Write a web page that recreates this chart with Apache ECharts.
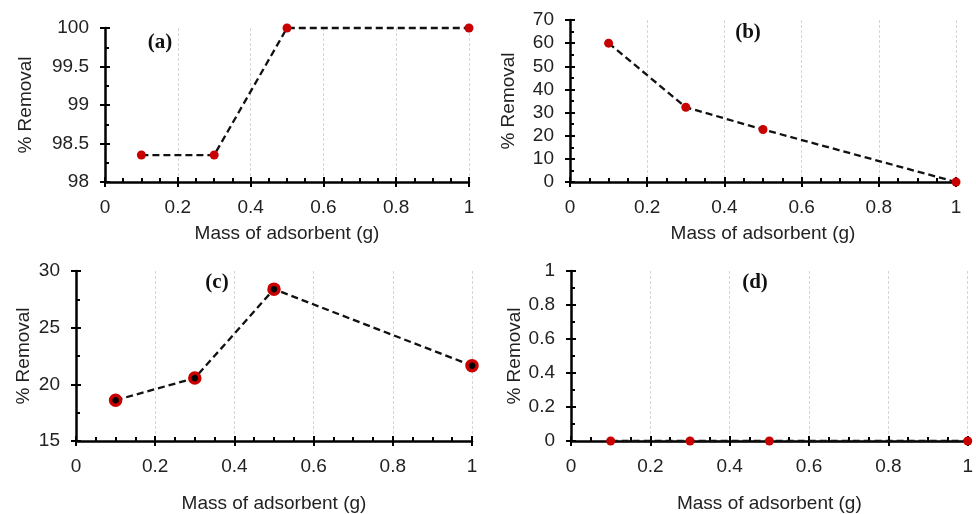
<!DOCTYPE html>
<html><head><meta charset="utf-8">
<script src="https://cdn.jsdelivr.net/npm/echarts@6/dist/echarts.min.js"></script>
<style>html,body{margin:0;padding:0;background:#fff}#c{width:976px;height:514px}</style>
</head><body><div id="c"></div>
<script>
const xMass = [0.1, 0.3, 0.5, 1];
const xTicks = ['0', '0.2', '0.4', '0.6', '0.8', '1'];
const removalA = [98.35, 98.35, 100, 100];
const removalB = [60, 32.3, 22.7, 0];
const removalC = [18.6, 20.55, 28.4, 21.65];
const removalD = [0, 0, 0, 0];
const panelLabels = ['(a)', '(b)', '(c)', '(d)'];
const xTitle = 'Mass of adsorbent (g)';
const yTitle = '% Removal';

const FONT = 'Liberation Sans, Arial, sans-serif';
const RED = '#c80000';
const TICK = {color:'#000', width:2};

const panels = [
  {grid:{left:105,top:28,width:364,height:154}, y:{min:98,max:100,interval:0.5}, data:removalA, nameGapX:42, nameGapY:70, label:{x:160,y:43}},
  {grid:{left:570,top:20,width:386,height:162}, y:{min:0,max:70,interval:10}, data:removalB, nameGapX:42, nameGapY:52, label:{x:748,y:33}},
  {grid:{left:76,top:271,width:396,height:171}, y:{min:15,max:30,interval:5}, data:removalC, nameGapX:53, nameGapY:43, label:{x:217,y:283}, dotted:true},
  {grid:{left:571,top:271,width:397,height:171}, y:{min:0,max:1,interval:0.2}, data:removalD, nameGapX:53, nameGapY:46, label:{x:755,y:283}}
];

const grids = [], xAxes = [], yAxes = [], series = [], graphics = [];
panels.forEach((p, i) => {
  grids.push(Object.assign({containLabel:false}, p.grid));
  const xBase = {type:'value', gridIndex:i, min:0, max:1, interval:0.2, position:'bottom'};
  const yBase = {type:'value', gridIndex:i, min:p.y.min, max:p.y.max, interval:p.y.interval, position:'left'};
  xAxes.push(Object.assign({}, xBase, {
    axisLine:{show:true,onZero:false,lineStyle:{color:'#000',width:2.5}},
    axisTick:{show:false},
    axisLabel:{color:'#222',fontFamily:FONT,fontSize:19,margin:16,
      formatter:(v)=>xTicks[Math.round(v/0.2)]},
    splitLine:{show:true,lineStyle:{color:'#d6d6d6',type:[3,2],width:1}},
    name:xTitle, nameLocation:'middle', nameGap:p.nameGapX,
    nameTextStyle:{color:'#222',fontFamily:FONT,fontSize:19}
  }));
  xAxes.push(Object.assign({}, xBase, {
    offset:-5, axisLine:{show:false,onZero:false},
    axisTick:{show:true,inside:false,length:10,lineStyle:TICK},
    axisLabel:{show:false}, splitLine:{show:false}
  }));
  xAxes.push(Object.assign({}, xBase, {
    offset:-4, axisLine:{show:false,onZero:false},
    axisTick:{show:false},
    minorTick:{show:true,splitNumber:4,length:4,lineStyle:TICK},
    axisLabel:{show:false}, splitLine:{show:false}, minorSplitLine:{show:false}
  }));
  yAxes.push(Object.assign({}, yBase, {
    axisLine:{show:true,onZero:false,lineStyle:{color:'#000',width:2.5}},
    axisTick:{show:false},
    axisLabel:{color:'#222',fontFamily:FONT,fontSize:19,margin:16},
    splitLine:{show:false},
    name:yTitle, nameLocation:'middle', nameGap:p.nameGapY, nameRotate:90,
    nameTextStyle:{color:'#222',fontFamily:FONT,fontSize:19}
  }));
  yAxes.push(Object.assign({}, yBase, {
    offset:-5, axisLine:{show:false,onZero:false},
    axisTick:{show:true,inside:false,length:10,lineStyle:TICK},
    axisLabel:{show:false}, splitLine:{show:false}
  }));
  yAxes.push(Object.assign({}, yBase, {
    offset:-4, axisLine:{show:false,onZero:false},
    axisTick:{show:false},
    minorTick:{show:true,splitNumber:2,length:4,lineStyle:TICK},
    axisLabel:{show:false}, splitLine:{show:false}, minorSplitLine:{show:false}
  }));
  series.push({
    type:'line', xAxisIndex:3*i, yAxisIndex:3*i, clip:false, z:5,
    data:xMass.map((x,k)=>[x,p.data[k]]),
    lineStyle:{color:'#111',width:2.3,type:[7,4]},
    symbol:'circle', symbolSize:p.dotted?10:9,
    itemStyle: p.dotted ? {color:'#000',borderColor:RED,borderWidth:3.5} : {color:RED,borderWidth:0},
    emphasis:{disabled:true}
  });
  graphics.push({type:'text', x:p.label.x, y:p.label.y,
    style:{text:panelLabels[i], fill:'#111', font:'bold 21px "Liberation Serif", "Times New Roman", serif', align:'center', verticalAlign:'middle'}});
});

const chart = echarts.init(document.getElementById('c'), null, {renderer:'canvas'});
chart.setOption({
  animation:false, backgroundColor:'#fff',
  grid:grids, xAxis:xAxes, yAxis:yAxes, series:series, graphic:graphics
});
</script></body></html>
